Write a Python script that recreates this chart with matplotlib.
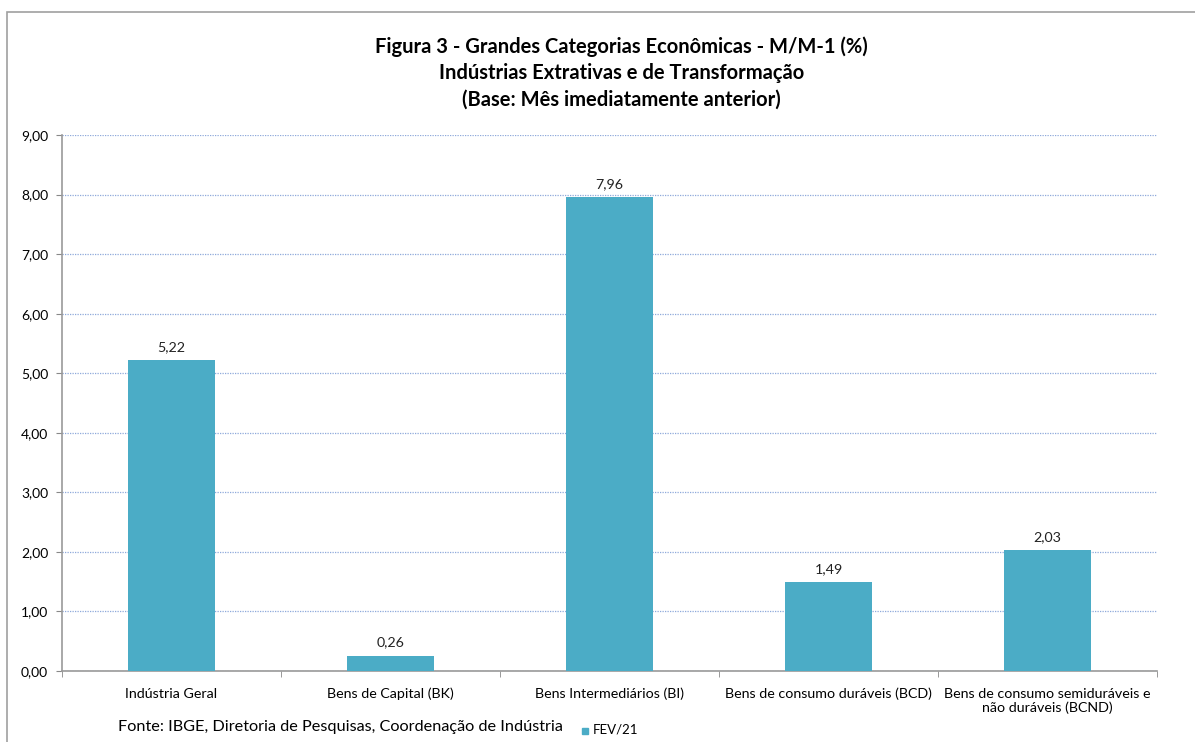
import matplotlib
matplotlib.use("Agg")
import matplotlib.pyplot as plt
from matplotlib.patches import Rectangle
import numpy as np

categories = ["Indústria Geral", "Bens de Capital (BK)", "Bens Intermediários (BI)",
              "Bens de consumo duráveis (BCD)", "Bens de consumo semiduráveis e\nnão duráveis (BCND)"]
values = [5.22, 0.26, 7.96, 1.49, 2.03]
series_name = "FEV/21"
yticks = [0, 1, 2, 3, 4, 5, 6, 7, 8, 9]

plt.rcParams['font.family'] = ['Lato', 'DejaVu Sans']

W, H = 1195, 742
fig = plt.figure(figsize=(W / 100, H / 100), dpi=100)

# outer border
fig.patches.append(Rectangle((7 / W, -0.01), 1.2, 1 - 12 / H + 0.01, transform=fig.transFigure,
                             fill=False, edgecolor="#A0A0A0", linewidth=1.2))

ax = fig.add_axes([62 / W, 1 - 671 / H, (1157 - 62) / W, (671 - 135) / H])
x = np.arange(len(categories))
bar_color = "#4BACC6"
ax.bar(x, values, width=0.4, color=bar_color, zorder=3)
ax.set_xlim(-0.5, len(categories) - 0.5)
ax.set_ylim(0, 9)
ax.set_yticks(yticks)
ax.set_yticklabels([f"{v:.2f}".replace(".", ",") for v in yticks], fontsize=10)
ax.yaxis.grid(True, color="#8EA9DB", linestyle=(0, (1, 1)), linewidth=0.9, zorder=0)
ax.set_xticks(x)
ax.set_xticklabels(categories, fontsize=10.3)
ax.set_xticks(np.arange(-0.5, len(categories)), minor=True)
ax.tick_params(axis="x", which="major", length=0, pad=12)
ax.tick_params(axis="x", which="minor", length=4, color="#888888")
ax.tick_params(axis="y", length=4, color="#888888", pad=6)
for s in ["top", "right"]:
    ax.spines[s].set_visible(False)
for s in ["left", "bottom"]:
    ax.spines[s].set_color("#999999")
    ax.spines[s].set_linewidth(1.2)

for xi, v in zip(x, values):
    ax.text(xi, v + 0.12, f"{v:.2f}".replace(".", ","), ha="center", va="bottom", fontsize=10.3, color="#222222")

title_kw = dict(ha="center", va="center", fontsize=14.5, fontweight="bold")
fig.text(0.52, 1 - 47 / H, "Figura 3 - Grandes Categorias Econômicas - M/M-1 (%)", **title_kw)
fig.text(0.52, 1 - 73 / H, "Indústrias Extrativas e de Transformação", **title_kw)
fig.text(0.52, 1 - 100 / H, "(Base: Mês imediatamente anterior)", **title_kw)

fig.text(118 / W, 1 - 727 / H, "Fonte: IBGE, Diretoria de Pesquisas, Coordenação de Indústria", ha="left",
         va="center", fontsize=11.7)
fig.patches.append(Rectangle((582 / W, 1 - 734 / H), 6 / W, 6 / H, transform=fig.transFigure,
                             color=bar_color))
fig.text(593 / W, 1 - 730 / H, series_name, ha="left", va="center", fontsize=9.5)

fig.savefig("out.png", dpi=100)
